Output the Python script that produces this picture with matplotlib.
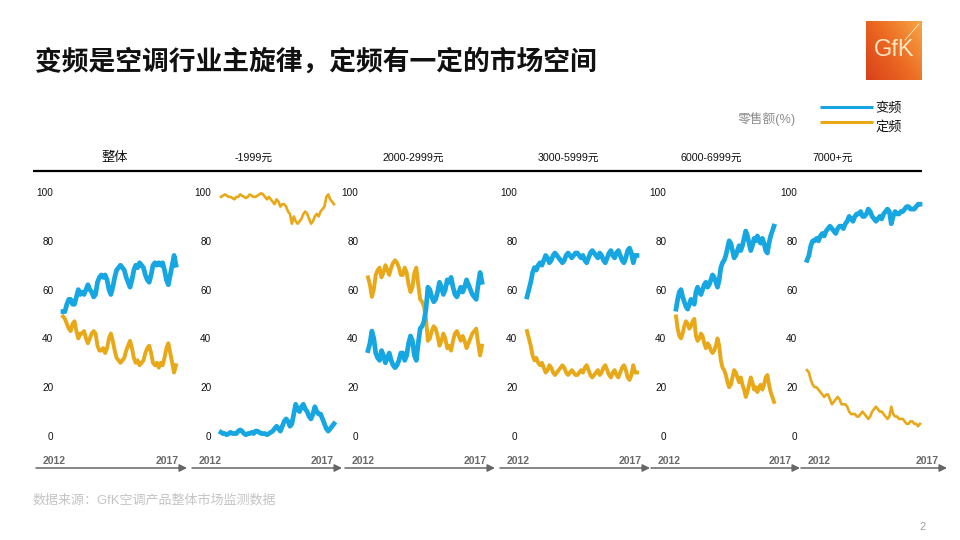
#!/usr/bin/env python3

import numpy as np
import matplotlib
matplotlib.use("Agg")
import matplotlib.pyplot as plt
from matplotlib.colors import LinearSegmentedColormap

plt.rcParams['font.family'] = ['Liberation Sans', 'Noto Sans CJK SC', 'DejaVu Sans']

title = "变频是空调行业主旋律，定频有一定的市场空间"
segments = ["整体", "-1999元", "2000-2999元", "3000-5999元", "6000-6999元", "7000+元"]
series_names = ["变频", "定频"]
years = ["2012", "2017"]
yticks = [0, 20, 40, 60, 80, 100]
source = "数据来源：GfK空调产品整体市场监测数据"

# retail share (%) per month, 2012 -> 2017
inverter = [
    [51, 51, 54, 56, 56, 54, 54, 57, 60, 58, 59, 58, 60, 62, 60, 59, 57, 58, 63, 65,
     66, 65, 66, 64, 60, 58, 61, 65, 68, 69, 70, 69, 68, 65, 63, 61, 64, 68, 70, 69,
     71, 70, 69, 66, 64, 63, 66, 70, 71, 70, 71, 70, 71, 68, 64, 62, 66, 70, 74, 70],
    [1.5, 1, 1, 0.5, 1, 1.5, 1, 1, 1, 2, 2.5, 2, 1, 0.5, 1, 1, 1.5, 1, 2, 2,
     1.5, 1, 1, 1, 0.5, 1, 1.5, 2, 3, 4, 3, 2, 4, 6, 7, 6, 4, 5, 9, 13,
     11, 10, 12, 13, 11, 10, 8, 7, 9, 12, 10, 9, 9, 7, 5, 3, 2, 3, 4, 5],
    [35, 38, 43, 40, 34, 32, 31, 35, 33, 30, 32, 34, 31, 29, 28, 29, 31, 34, 34, 31,
     33, 38, 41, 39, 33, 31, 38, 44, 45, 47, 52, 61, 60, 57, 55, 56, 59, 63, 61, 58,
     60, 64, 63, 65, 61, 58, 57, 59, 61, 59, 61, 64, 62, 60, 58, 57, 56, 62, 67, 63],
    [57, 60, 63, 67, 69, 68, 70, 71, 70, 72, 74, 73, 71, 72, 74, 75, 74, 73, 72, 71,
     72, 74, 75, 74, 73, 74, 75, 75, 74, 73, 74, 72, 71, 73, 75, 76, 75, 74, 73, 75,
     74, 72, 71, 73, 75, 76, 74, 73, 75, 76, 74, 72, 71, 73, 76, 77, 75, 71, 74, 74],
    [52, 56, 59, 60, 57, 55, 53, 52, 54, 56, 55, 54, 59, 61, 59, 58, 60, 62, 63, 61,
     62, 64, 66, 65, 63, 61, 64, 69, 71, 72, 74, 77, 80, 79, 76, 73, 74, 76, 78, 76,
     78, 81, 84, 82, 79, 76, 78, 81, 80, 82, 80, 79, 81, 79, 76, 75, 79, 82, 84, 86],
    [72, 74, 78, 80, 80, 81, 80, 82, 83, 82, 84, 85, 86, 85, 84, 83, 85, 86, 86, 85,
     87, 88, 90, 89, 88, 90, 91, 91, 92, 90, 90, 91, 93, 92, 90, 89, 88, 89, 90, 89,
     91, 92, 93, 92, 87, 90, 92, 91, 91, 92, 92, 93, 94, 94, 93, 93, 93, 94, 95, 95],
]
fixed = [
    [49, 48, 46, 44, 43, 46, 47, 43, 40, 42, 42, 43, 40, 38, 40, 42, 43, 42, 37, 35,
     35, 36, 34, 36, 40, 42, 39, 35, 32, 31, 30, 31, 32, 35, 37, 39, 36, 32, 30, 31,
     29, 30, 31, 34, 36, 37, 34, 30, 29, 30, 28, 30, 29, 32, 36, 38, 34, 30, 26, 29],
    [98, 98.5, 99, 98.5, 98, 98, 97.5, 97, 98, 98, 99, 98.5, 98, 97.5, 98, 99, 98.5, 98, 98, 98.5,
     99, 99.5, 99, 98, 97, 98, 97, 96, 95, 97, 96, 94, 95, 95, 94, 92, 91, 87, 90, 88,
     87, 88, 89, 91, 92, 91, 89, 87, 88, 90, 91, 90, 92, 93, 94, 98, 99, 97, 96, 95],
    [65, 62, 57, 60, 66, 68, 69, 65, 67, 70, 68, 66, 69, 71, 72, 71, 69, 66, 66, 69,
     67, 62, 59, 61, 67, 69, 62, 56, 55, 53, 48, 39, 40, 43, 45, 44, 41, 37, 39, 42,
     40, 36, 37, 35, 39, 42, 43, 41, 39, 41, 39, 36, 38, 40, 42, 43, 44, 38, 33, 37],
    [43, 40, 37, 33, 31, 32, 30, 29, 30, 28, 26, 27, 29, 28, 26, 25, 26, 27, 28, 29,
     28, 26, 25, 26, 27, 26, 25, 25, 26, 27, 26, 28, 29, 27, 25, 24, 25, 26, 27, 25,
     26, 28, 29, 27, 25, 24, 26, 27, 25, 24, 26, 28, 29, 27, 24, 23, 25, 29, 26, 26],
    [49, 44, 41, 40, 42, 45, 47, 46, 44, 45, 47, 48, 41, 39, 40, 42, 41, 38, 36, 38,
     37, 35, 34, 35, 37, 40, 37, 31, 28, 27, 25, 22, 20, 21, 24, 27, 26, 24, 22, 24,
     21, 19, 16, 18, 21, 24, 22, 19, 20, 18, 20, 21, 19, 21, 24, 25, 21, 18, 16, 14],
    [27, 26, 23, 21, 20, 20, 19, 18, 17, 16, 17, 17, 15, 13, 14, 15, 16, 15, 13, 13,
     13, 12, 10, 9, 9, 9, 8, 8, 9, 10, 9, 8, 7, 8, 10, 11, 12, 11, 10, 10,
     9, 8, 7, 8, 12, 9, 8, 8, 7, 7, 7, 6, 5, 5, 6, 6, 5, 5, 4, 5],
]

BLUE = "#16a6e1"
ORANGE = "#e8a818"

W, H = 960, 540
fig = plt.figure(figsize=(9.6, 5.4), dpi=100)
fig.patch.set_facecolor("white")

# background axes in pixel coordinates for decorations
bg = fig.add_axes([0, 0, 1, 1], zorder=0)
bg.set_xlim(0, W)
bg.set_ylim(H, 0)
bg.axis("off")

bg.text(35, 62, title, fontsize=19.3, fontweight="bold", color="#111111",
        family=["Noto Sans CJK SC", "DejaVu Sans"], va="center", ha="left")

# GfK logo
cmap = LinearSegmentedColormap.from_list("gfk", ["#d9401a", "#ec6a22", "#f6a544"])
gx, gy = np.meshgrid(np.linspace(0, 1, 60), np.linspace(0, 1, 60))
bg.imshow(gx * 0.6 + (1 - gy) * 0.4, cmap=cmap, extent=(866, 922, 80, 21),
          aspect="auto", origin="upper", zorder=1)
bg.text(894, 50, "GfK", color="#fbe6c4", fontsize=17, ha="center", va="center",
        family=["Liberation Sans"], zorder=2)
bg.plot([919, 905], [24, 40], color="#fbe6c4", lw=0.6, zorder=2)

# legend
bg.text(738, 119, "零售额(%)", fontsize=9.2, color="#8c8c8c", va="center", ha="left")
for name, col, y, ty in [(series_names[0], BLUE, 107, 109), (series_names[1], ORANGE, 122, 127)]:
    bg.plot([820, 873], [y, y], color=col, lw=2.2, solid_capstyle="butt")
    bg.text(875, ty, name, fontsize=9.5, color="#111111", va="center", ha="left")

# header labels and rule
header_x = [115, 254, 413, 568, 711, 833]
for lab, hx in zip(segments, header_x):
    bg.text(hx, 158, lab, fontsize=9.5 if lab == "整体" else 7.7, color="#111111",
            ha="center", va="center")
bg.plot([33, 922], [171, 171], color="black", lw=1.6, solid_capstyle="butt")

# time arrows
arrow_start = [36, 192, 345, 500, 651, 801]
arrow_tip = [187, 342, 495, 650, 800, 947]
for a, b in zip(arrow_start, arrow_tip):
    bg.annotate("", xy=(b, 468), xytext=(a, 468),
                arrowprops=dict(arrowstyle="-|>", color="#666666", lw=1.1,
                                mutation_scale=11, shrinkA=0, shrinkB=0))
    bg.text(a + 7, 461, years[0], fontsize=7.5, fontweight="bold", color="#6a6a6a",
            ha="left", va="center")
    bg.text(b - 8, 461, years[1], fontsize=7.5, fontweight="bold", color="#6a6a6a",
            ha="right", va="center")

bg.text(33, 501, source, fontsize=9.4, color="#c4c4c4", va="center", ha="left")
bg.text(923, 527, "2", fontsize=8, color="#a0a0a0", va="center", ha="center")

# small multiples
panel_px = [(63, 176), (221, 334), (368, 482), (527, 637), (676, 774), (807, 920)]
fixed_lw = [2.8, 1.9, 2.8, 2.8, 2.8, 1.9]
y0_px, y100_px = 436, 192
for i, (x0, x1) in enumerate(panel_px):
    ax = fig.add_axes([x0 / W, 1 - y0_px / H, (x1 - x0) / W, (y0_px - y100_px) / H], zorder=2)
    ax.patch.set_alpha(0)
    xs = np.arange(len(inverter[i]))
    ax.plot(xs, fixed[i], color=ORANGE, lw=fixed_lw[i], solid_joinstyle="round",
            clip_on=False)
    ax.plot(xs, inverter[i], color=BLUE, lw=3.4, solid_joinstyle="round",
            clip_on=False)
    ax.set_xlim(0, len(xs) - 1)
    ax.set_ylim(0, 100)
    ax.set_xticks([])
    ax.set_yticks(yticks)
    ax.set_yticklabels([str(t) for t in yticks])
    ax.tick_params(axis="y", length=0, pad=7, labelsize=7.2, labelcolor="#111111")
    for s in ax.spines.values():
        s.set_visible(False)

fig.savefig("out.png", dpi=100)
